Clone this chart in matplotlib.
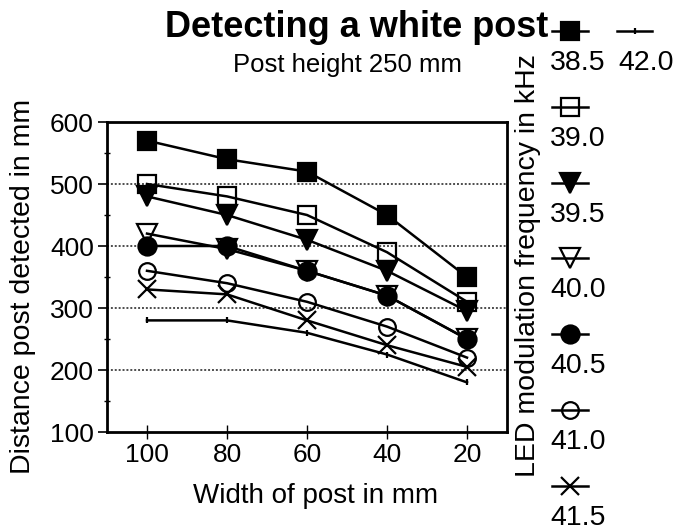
import matplotlib
matplotlib.use("Agg")
import matplotlib.pyplot as plt
from matplotlib.lines import Line2D

plt.rcParams['font.family'] = ['Liberation Sans', 'DejaVu Sans']

widths = [100, 80, 60, 40, 20]
freq_labels = ["38.5", "39.0", "39.5", "40.0", "40.5", "41.0", "41.5", "42.0"]
d_385 = [570, 540, 520, 450, 350]
d_390 = [500, 480, 450, 390, 310]
d_395 = [480, 450, 410, 360, 295]
d_400 = [420, 395, 360, 320, 250]
d_405 = [400, 400, 360, 320, 250]
d_410 = [360, 340, 310, 270, 220]
d_415 = [330, 322, 280, 240, 205]
d_420 = [280, 280, 260, 225, 180]

series = [d_385, d_390, d_395, d_400, d_405, d_410, d_415, d_420]
styles = [
    dict(marker='s', ms=13, mfc='black'),
    dict(marker='s', ms=13, mfc='none'),
    dict(marker='v', ms=14, mfc='black'),
    dict(marker='v', ms=14, mfc='none'),
    dict(marker='o', ms=13, mfc='black'),
    dict(marker='o', ms=12, mfc='none'),
    dict(marker='x', ms=13, mfc='none'),
    dict(marker='|', ms=5, mfc='none'),
]

W, H = 675, 532
fig = plt.figure(figsize=(W / 100, H / 100), dpi=100)
ax = fig.add_axes([107 / W, 1 - 432 / H, 400 / W, 310 / H])

for vals, st in zip(series, styles):
    ax.plot(widths, vals, color='black', lw=1.8, mec='black', mew=1.6, zorder=3, **st)

ax.set_xlim(110, 10)
ax.set_ylim(100, 600)
ax.set_xticks(widths)
ax.set_yticks([100, 200, 300, 400, 500, 600])
ax.set_yticks([150, 250, 350, 450, 550], minor=True)
for yv in [200, 300, 400, 500]:
    ax.axhline(yv, color='0.3', lw=1.4, ls=(0, (1, 1)), zorder=1)

for s in ax.spines.values():
    s.set_linewidth(2.0)
ax.tick_params(axis='y', which='major', direction='out', length=6.5, width=1.2,
               labelsize=19, pad=3)
ax.tick_params(axis='y', which='minor', direction='inout', length=5, width=1.0)
ax.tick_params(axis='x', which='major', direction='inout', length=10, width=1.0,
               labelsize=19, pad=3)

ax.set_xlabel("Width of post in mm", fontsize=20)
ax.xaxis.label.set_va('baseline')
ax.xaxis.set_label_coords((316 - 107) / 400, (432 - 503) / 310)
ax.set_ylabel("Distance post detected in mm", fontsize=20.5)
ax.yaxis.set_label_coords((23 - 107) / 400, (432 - 286) / 310)
ax.yaxis.label.set_va('center')

fig.text(528 / W, 1 - 266 / H, "LED modulation frequency in kHz", fontsize=20.5,
         rotation=90, ha='center', va='center')

fig.text(357 / W, 1 - 37 / H, "Detecting a white post", fontsize=26,
         fontweight='bold', ha='center', va='baseline')
fig.text(347 / W, 1 - 72 / H, "Post height 250 mm", fontsize=18.5,
         ha='center', va='baseline')

# legend (manual layout: marker above label)
step = 75.8
for i, (lab, st) in enumerate(zip(freq_labels, styles)):
    if i < 7:
        x0, x1, my, ly, lx = 552, 588, 31 + step * i, 70 + step * i, 550
    else:
        x0, x1, my, ly, lx = 617, 652, 31, 70, 618
    ln = Line2D([x0 / W, x1 / W], [1 - my / H, 1 - my / H], color='black', lw=1.8,
                transform=fig.transFigure)
    fig.add_artist(ln)
    mk = Line2D([(x0 + x1) / 2 / W], [1 - my / H], color='black', mec='black', mew=1.6,
                transform=fig.transFigure, **st)
    fig.add_artist(mk)
    fig.text(lx / W, 1 - ly / H, lab, fontsize=20.5, ha='left', va='baseline')

fig.savefig("out.png", dpi=100)
